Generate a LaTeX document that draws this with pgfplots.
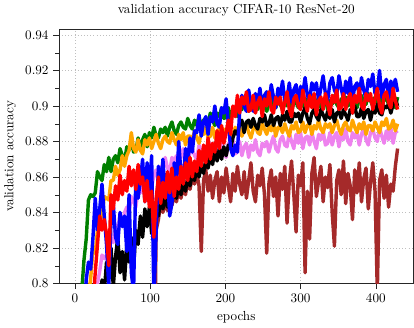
\documentclass[border=0pt]{standalone}
\usepackage{pgfplots}
\pgfplotsset{compat=1.18}
\usepackage{pgfplotstable}

\definecolor{mgreen}{RGB}{0,128,0}
\definecolor{morange}{RGB}{255,165,0}
\definecolor{mviolet}{RGB}{238,130,238}
\definecolor{mbrown}{RGB}{165,42,42}

% epoch, then one column per run (every 3rd epoch)
\pgfplotstableread{
ep  g     o     b     k     r     v     br
0   0.55  0.5   0.5   0.4   0.45  0.45  0.4
3   0.66  0.56  0.6   0.45  0.5   0.49  0.409
6   0.76  0.62  0.68  0.5   0.55  0.53  0.418
9   0.795 0.68  0.74  0.55  0.6   0.57  0.427
12  0.813 0.72  0.78  0.6   0.65  0.61  0.436
15  0.825 0.76  0.802 0.64  0.69  0.65  0.445
18  0.847 0.793 0.812 0.68  0.73  0.69  0.454
21  0.85  0.803 0.808 0.71  0.76  0.72  0.463
24  0.849 0.819 0.826 0.73  0.788 0.76  0.472
27  0.851 0.817 0.848 0.75  0.806 0.79  0.481
30  0.863 0.83  0.83  0.765 0.822 0.8   0.49
33  0.86  0.837 0.842 0.78  0.838 0.807 0.499
36  0.858 0.837 0.856 0.802 0.83  0.816 0.508
39  0.867 0.849 0.838 0.795 0.836 0.814 0.517
42  0.863 0.848 0.822 0.812 0.828 0.816 0.526
45  0.871 0.847 0.798 0.804 0.81  0.827 0.535
48  0.863 0.858 0.835 0.82  0.85  0.825 0.544
51  0.87  0.858 0.845 0.798 0.842 0.823 0.553
54  0.872 0.866 0.826 0.815 0.855 0.833 0.562
57  0.868 0.861 0.822 0.826 0.847 0.83  0.571
60  0.876 0.864 0.84  0.806 0.861 0.839 0.58
63  0.872 0.872 0.832 0.818 0.85  0.832 0.589
66  0.869 0.866 0.838 0.802 0.858 0.84  0.598
69  0.877 0.872 0.818 0.822 0.852 0.843 0.607
72  0.875 0.875 0.85  0.812 0.866 0.84  0.616
75  0.881 0.885 0.806 0.826 0.855 0.849 0.625
78  0.874 0.876 0.795 0.808 0.864 0.846 0.634
81  0.875 0.874 0.862 0.83  0.853 0.843 0.643
84  0.882 0.881 0.848 0.822 0.867 0.853 0.652
87  0.875 0.875 0.858 0.838 0.856 0.851 0.661
90  0.881 0.873 0.87  0.826 0.86  0.858 0.67
93  0.884 0.881 0.846 0.842 0.846 0.851 0.679
96  0.877 0.878 0.868 0.832 0.858 0.853 0.688
99  0.885 0.882 0.852 0.843 0.843 0.861 0.69
102 0.882 0.876 0.872 0.828 0.852 0.854 0.70
105 0.888 0.88  0.79  0.84  0.826 0.861 0.72
108 0.883 0.884 0.83  0.846 0.848 0.864 0.83
111 0.882 0.879 0.866 0.838 0.86  0.857 0.836
114 0.887 0.876 0.852 0.847 0.845 0.866 0.845
117 0.885 0.881 0.87  0.842 0.857 0.864 0.84
120 0.888 0.883 0.849 0.849 0.848 0.871 0.847
123 0.883 0.88  0.862 0.843 0.863 0.865 0.841
126 0.888 0.879 0.838 0.85  0.851 0.863 0.848
129 0.891 0.885 0.845 0.846 0.865 0.871 0.844
132 0.886 0.881 0.868 0.852 0.849 0.869 0.85
135 0.884 0.878 0.855 0.848 0.86  0.872 0.846
138 0.889 0.884 0.88  0.855 0.853 0.866 0.853
141 0.891 0.881 0.862 0.85  0.866 0.871 0.848
144 0.888 0.885 0.857 0.857 0.856 0.876 0.855
147 0.887 0.878 0.876 0.852 0.868 0.869 0.85
150 0.893 0.883 0.868 0.86  0.858 0.867 0.858
153 0.889 0.883 0.882 0.855 0.871 0.874 0.853
156 0.887 0.881 0.874 0.862 0.86  0.876 0.86
159 0.892 0.886 0.886 0.858 0.869 0.872 0.856
162 0.889 0.882 0.885 0.865 0.863 0.87  0.862
165 0.894 0.879 0.895 0.86  0.875 0.878 0.855
168 0.887 0.885 0.883 0.867 0.866 0.874 0.818
171 0.892 0.884 0.891 0.862 0.878 0.87  0.858
174 0.893 0.888 0.894 0.87  0.868 0.877 0.864
177 0.89  0.882 0.884 0.865 0.882 0.872 0.852
180 0.896 0.883 0.894 0.872 0.87  0.879 0.861
183 0.892 0.888 0.891 0.867 0.879 0.87  0.848
186 0.889 0.882 0.9   0.875 0.874 0.876 0.858
189 0.896 0.886 0.89  0.869 0.886 0.877 0.863
192 0.894 0.887 0.888 0.876 0.876 0.873 0.846
195 0.899 0.882 0.899 0.87  0.889 0.88  0.86
198 0.893 0.887 0.896 0.877 0.879 0.875 0.851
201 0.894 0.885 0.904 0.872 0.885 0.871 0.865
204 0.899 0.89  0.89  0.878 0.892 0.879 0.855
207 0.893 0.885 0.876 0.876 0.884 0.876 0.846
210 0.898 0.883 0.872 0.882 0.9   0.881 0.862
213 0.899 0.888 0.878 0.886 0.894 0.873 0.852
216 0.894 0.886 0.874 0.884 0.906 0.874 0.866
219 0.899 0.888 0.897 0.89  0.896 0.88  0.856
222 0.898 0.883 0.906 0.892 0.905 0.872 0.85
225 0.903 0.887 0.9   0.885 0.901 0.877 0.863
228 0.899 0.89  0.897 0.891 0.908 0.879 0.848
231 0.897 0.885 0.909 0.892 0.897 0.871 0.858
234 0.902 0.882 0.902 0.888 0.898 0.878 0.868
237 0.9   0.887 0.897 0.893 0.906 0.875 0.852
240 0.903 0.889 0.907 0.889 0.896 0.881 0.846
243 0.898 0.885 0.901 0.887 0.902 0.874 0.861
246 0.902 0.884 0.91  0.893 0.905 0.872 0.855
249 0.905 0.89  0.898 0.891 0.894 0.879 0.865
252 0.9   0.887 0.906 0.895 0.904 0.877 0.85
255 0.897 0.884 0.908 0.889 0.9   0.88  0.817
258 0.902 0.889 0.902 0.89  0.908 0.874 0.857
261 0.904 0.886 0.912 0.895 0.898 0.879 0.864
264 0.9   0.89  0.905 0.889 0.896 0.883 0.849
267 0.899 0.883 0.899 0.893 0.905 0.876 0.86
270 0.905 0.888 0.91  0.894 0.901 0.874 0.838
273 0.901 0.888 0.906 0.889 0.905 0.881 0.862
276 0.898 0.885 0.914 0.895 0.896 0.883 0.853
279 0.903 0.89  0.903 0.892 0.902 0.878 0.866
282 0.9   0.886 0.904 0.897 0.908 0.877 0.834
285 0.904 0.883 0.913 0.891 0.898 0.885 0.858
288 0.897 0.889 0.902 0.891 0.894 0.88  0.869
291 0.902 0.887 0.909 0.896 0.904 0.876 0.85
294 0.902 0.891 0.912 0.894 0.906 0.884 0.829
297 0.899 0.885 0.901 0.896 0.9   0.879 0.861
300 0.905 0.886 0.911 0.891 0.898 0.885 0.855
303 0.901 0.891 0.907 0.896 0.909 0.876 0.868
306 0.898 0.885 0.916 0.899 0.902 0.882 0.806
309 0.904 0.889 0.906 0.893 0.897 0.883 0.852
312 0.902 0.89  0.903 0.89  0.906 0.878 0.825
315 0.906 0.884 0.913 0.896 0.899 0.885 0.862
318 0.9   0.889 0.909 0.898 0.907 0.88  0.871
321 0.901 0.887 0.913 0.894 0.895 0.876 0.849
324 0.905 0.892 0.903 0.892 0.903 0.884 0.858
327 0.899 0.887 0.91  0.898 0.905 0.881 0.866
330 0.903 0.885 0.917 0.895 0.898 0.886 0.846
333 0.904 0.89  0.907 0.892 0.907 0.878 0.86
336 0.898 0.888 0.903 0.897 0.901 0.879 0.854
339 0.903 0.89  0.913 0.893 0.895 0.885 0.867
342 0.901 0.885 0.916 0.898 0.906 0.878 0.84
345 0.906 0.889 0.909 0.891 0.902 0.883 0.821
348 0.901 0.892 0.906 0.896 0.909 0.885 0.858
351 0.899 0.887 0.917 0.897 0.898 0.877 0.864
354 0.904 0.884 0.91  0.893 0.899 0.884 0.85
357 0.902 0.889 0.904 0.898 0.907 0.881 0.869
360 0.905 0.891 0.914 0.895 0.898 0.887 0.845
363 0.9   0.887 0.907 0.892 0.904 0.88  0.862
366 0.904 0.886 0.916 0.898 0.907 0.878 0.855
369 0.907 0.892 0.903 0.896 0.896 0.885 0.836
372 0.902 0.888 0.911 0.9   0.906 0.882 0.864
375 0.899 0.885 0.913 0.894 0.902 0.885 0.851
378 0.904 0.89  0.906 0.894 0.91  0.878 0.868
381 0.906 0.887 0.916 0.899 0.9   0.884 0.846
384 0.902 0.891 0.909 0.893 0.898 0.888 0.859
387 0.901 0.884 0.904 0.897 0.907 0.881 0.865
390 0.907 0.889 0.915 0.898 0.903 0.878 0.842
393 0.903 0.889 0.911 0.892 0.907 0.885 0.857
396 0.9   0.886 0.918 0.898 0.898 0.887 0.868
399 0.905 0.891 0.907 0.896 0.904 0.882 0.852
402 0.902 0.888 0.908 0.901 0.91  0.88  0.795
405 0.906 0.885 0.92  0.896 0.9   0.888 0.858
408 0.899 0.891 0.905 0.895 0.896 0.883 0.864
411 0.904 0.889 0.912 0.9   0.906 0.879 0.848
414 0.904 0.893 0.915 0.899 0.908 0.886 0.861
417 0.901 0.887 0.904 0.901 0.902 0.881 0.843
420 0.906 0.888 0.914 0.896 0.899 0.888 0.856
423 0.902 0.892 0.91  0.901 0.91  0.879 0.852
426 0.899 0.886 0.915 0.904 0.903 0.885 0.866
429 0.905 0.89  0.908 0.9   0.898 0.886 0.876
}\runs

\begin{document}
\begin{tikzpicture}
\begin{axis}[
    scale only axis,
    width=9.5cm, height=6.81cm,
    xmin=-21.45, xmax=450.45,
    ymin=0.8, ymax=0.9434,
    xtick={0,100,200,300,400},
    ytick={0.8,0.82,0.84,0.86,0.88,0.9,0.92,0.94},
    minor y tick num=1,
    tick align=outside,
    tick pos=left,
    axis line style={white!15!black},
    tick style={white!15!black},
    xmajorgrids, ymajorgrids,
    grid style={dotted, white!75!black},
    title={validation accuracy CIFAR-10 ResNet-20},
    xlabel={epochs},
    ylabel={validation accuracy},
    every axis plot/.append style={line width=2.6pt, line join=round},
]
\addplot[mbrown]  table[x=ep, y=br] {\runs};
\addplot[mviolet] table[x=ep, y=v]  {\runs};
\addplot[mgreen]  table[x=ep, y=g]  {\runs};
\addplot[morange] table[x=ep, y=o]  {\runs};
\addplot[black]   table[x=ep, y=k]  {\runs};
\addplot[blue]    table[x=ep, y=b]  {\runs};
\addplot[red]     table[x=ep, y=r]  {\runs};
\end{axis}
\end{tikzpicture}
\end{document}
